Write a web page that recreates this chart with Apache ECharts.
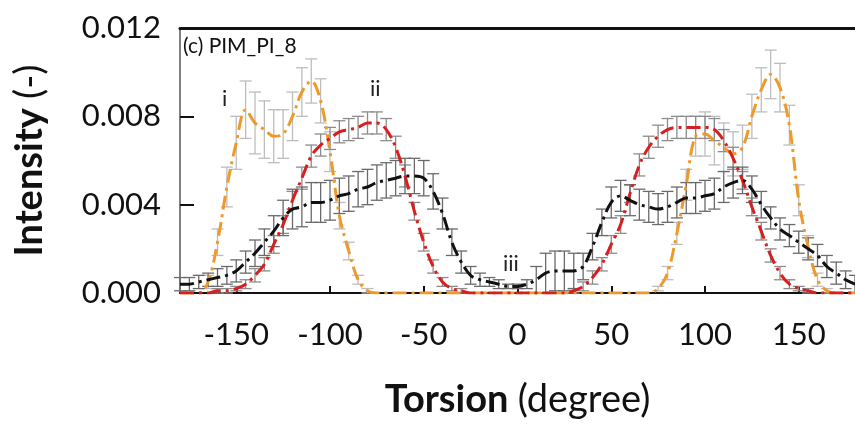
<!DOCTYPE html>
<html><head><meta charset="utf-8">
<script src="https://cdn.jsdelivr.net/npm/echarts@6/dist/echarts.min.js"></script>
<style>html,body{margin:0;padding:0;background:#fff}#c{width:855px;height:431px}</style>
</head><body><div id="c"></div>
<script>
const torsion = [-180,-175,-170,-165,-160,-155,-150,-145,-140,-135,-130,-125,-120,-115,-110,-105,-100,-95,-90,-85,-80,-75,-70,-65,-60,-55,-50,-45,-40,-35,-30,-25,-20,-15,-10,-5,0,5,10,15,20,25,30,35,40,45,50,55,60,65,70,75,80,85,90,95,100,105,110,115,120,125,130,135,140,145,150,155,160,165,170,175,180];
const xTickValues = [-150,-100,-50,0,50,100,150];
const yTickMin = 0, yTickMax = 0.012, yTickStep = 0.004;

// Series i (orange)
const seriesI = [0,0,0,0.0005,0.0023,0.0048,0.0068,0.0083,0.0077,0.0074,0.0071,0.0072,0.0080,0.0091,0.0096,0.0087,0.0064,0.0035,0.0019,0.0006,0.0001,0,0,0,0,0,0,0,0,0,0,0,0,0,0,0,0,0,0,0,0,0,0,0,0,0,0,0,0,0,0,0.0002,0.0009,0.0027,0.0049,0.0071,0.0072,0.0069,0.0066,0.0063,0.0066,0.0080,0.0092,0.0099,0.0093,0.0076,0.0042,0.0021,0.0006,0.0001,0,0,0];
const errI = [0,0,0,0.0003,0.0006,0.0009,0.0012,0.0013,0.0014,0.0013,0.0012,0.0011,0.0011,0.0011,0.0010,0.0010,0.0009,0.0006,0.0004,0.0002,0.0001,0,0,0,0,0,0,0,0,0,0,0,0,0,0,0,0,0,0,0,0,0,0,0,0,0,0,0,0,0,0,0.0001,0.0003,0.0005,0.0007,0.0009,0.0010,0.0011,0.0011,0.0010,0.0010,0.0010,0.0010,0.0011,0.0011,0.0009,0.0007,0.0005,0.0003,0.0001,0,0,0];

// Series ii (red)
const seriesII = [0,0,0,0,0.0001,0.0001,0.0002,0.0004,0.0008,0.0013,0.0022,0.0031,0.0042,0.0052,0.0062,0.0067,0.0070,0.0073,0.0074,0.0075,0.0077,0.0077,0.0074,0.0066,0.0053,0.0037,0.0023,0.0012,0.0005,0.0002,0.0001,0,0,0,0,0,0,0,0,0,0,0,0.0001,0.0003,0.0007,0.0013,0.0022,0.0031,0.0045,0.0058,0.0066,0.0071,0.0074,0.0075,0.0075,0.0075,0.0075,0.0074,0.0069,0.0061,0.0051,0.0039,0.0028,0.0017,0.0009,0.0004,0.0002,0.0001,0,0,0,0,0];
const errII = [0,0,0,0,0.0001,0.0001,0.0001,0.0002,0.0003,0.0003,0.0004,0.0004,0.0004,0.0005,0.0005,0.0005,0.0005,0.0005,0.0005,0.0005,0.0005,0.0005,0.0005,0.0005,0.0005,0.0004,0.0004,0.0003,0.0002,0.0001,0.0001,0,0,0,0,0,0,0,0,0,0,0,0.0001,0.0002,0.0003,0.0003,0.0004,0.0004,0.0004,0.0005,0.0005,0.0005,0.0005,0.0005,0.0005,0.0005,0.0005,0.0005,0.0005,0.0005,0.0004,0.0004,0.0004,0.0003,0.0003,0.0002,0.0001,0.0001,0,0,0,0,0];

// Series iii (black)
const seriesIII = [0.0004,0.0004,0.0005,0.0006,0.0007,0.0008,0.0010,0.0014,0.0018,0.0023,0.0028,0.0034,0.0038,0.0039,0.0041,0.0041,0.0042,0.0044,0.0045,0.0047,0.0048,0.0050,0.0051,0.0052,0.0053,0.0053,0.0052,0.0046,0.0036,0.0023,0.0014,0.0008,0.0006,0.0005,0.0004,0.0003,0.0003,0.0004,0.0006,0.0009,0.0010,0.0010,0.0010,0.0012,0.0021,0.0032,0.0041,0.0044,0.0042,0.0040,0.0039,0.0038,0.0039,0.0041,0.0043,0.0043,0.0044,0.0045,0.0048,0.0050,0.0051,0.0047,0.0040,0.0034,0.0029,0.0026,0.0023,0.0020,0.0017,0.0012,0.0009,0.0006,0.0004];
const errIII = [0.0003,0.0003,0.0003,0.0003,0.0004,0.0004,0.0005,0.0005,0.0006,0.0006,0.0007,0.0008,0.0009,0.0009,0.0009,0.0009,0.0009,0.0008,0.0008,0.0008,0.0008,0.0008,0.0008,0.0008,0.0008,0.0008,0.0008,0.0008,0.0007,0.0006,0.0005,0.0004,0.0003,0.0002,0.0002,0.0001,0.0001,0.0002,0.0006,0.0009,0.0009,0.0009,0.0008,0.0006,0.0006,0.0006,0.0007,0.0007,0.0007,0.0007,0.0007,0.0007,0.0007,0.0007,0.0007,0.0007,0.0007,0.0007,0.0007,0.0007,0.0006,0.0006,0.0006,0.0005,0.0005,0.0005,0.0005,0.0005,0.0005,0.0005,0.0005,0.0004,0.0004];

const FONT = 'Lato, "Open Sans", sans-serif';

function pairs(vals){ return torsion.map((x,i)=>[x, vals[i]]); }
function errData(vals, errs){
  const out = [];
  torsion.forEach((x,i)=>{ if (errs[i] > 0) out.push([x, vals[i]-errs[i], vals[i]+errs[i]]); });
  return out;
}
function errSeries(vals, errs, color){
  return {
    type: 'custom', z: 1, silent: true,
    data: errData(vals, errs),
    encode: {x: 0, y: [1,2]},
    renderItem: function(params, api){
      const x = api.value(0);
      const lo = api.coord([x, api.value(1)]);
      const hi = api.coord([x, api.value(2)]);
      const hw = 6;
      const st = {stroke: color, lineWidth: 1.3};
      return {type: 'group', children: [
        {type: 'line', shape: {x1: lo[0], y1: lo[1], x2: hi[0], y2: hi[1]}, style: st},
        {type: 'line', shape: {x1: lo[0]-hw, y1: lo[1], x2: lo[0]+hw, y2: lo[1]}, style: st},
        {type: 'line', shape: {x1: hi[0]-hw, y1: hi[1], x2: hi[0]+hw, y2: hi[1]}, style: st}
      ]};
    }
  };
}
function lineSeries(vals, color){
  return {
    type: 'line', z: 3, data: pairs(vals), smooth: 0.35, showSymbol: false,
    lineStyle: {color: color, width: 3, type: [14, 5, 3, 5]}
  };
}

const chart = echarts.init(document.getElementById('c'), null, {renderer: 'canvas'});
chart.setOption({
  animation: false,
  backgroundColor: '#fff',
  grid: {left: 180, top: 28, right: -5, bottom: 138, show: false},
  xAxis: [{
    type: 'value', min: -180, max: 180,
    name: '{b|Torsion }{n|(degree)}', nameLocation: 'middle', nameGap: 88,
    nameTextStyle: {rich: {b: {fontFamily: FONT, fontWeight: 'bold', fontSize: 38, color: '#111'}, n: {fontFamily: FONT, fontSize: 38, color: '#111'}}},
    axisLine: {show: true, onZero: false, lineStyle: {color: '#111', width: 2}},
    axisTick: {show: true, inside: true, length: 7, customValues: xTickValues, lineStyle: {color: '#111', width: 2}},
    axisLabel: {customValues: xTickValues, fontFamily: FONT, fontSize: 31, color: '#111', margin: 26},
    splitLine: {show: false}
  }, {
    type: 'value', min: -180, max: 180, position: 'top',
    axisLine: {show: true, onZero: false, lineStyle: {color: '#111', width: 3}},
    axisTick: {show: false}, axisLabel: {show: false}, splitLine: {show: false}
  }],
  yAxis: {
    type: 'value', min: yTickMin, max: yTickMax, interval: yTickStep,
    name: '{b|Intensity }{n|(-)}', nameLocation: 'middle', nameRotate: 90, nameGap: 131,
    nameTextStyle: {rich: {b: {fontFamily: FONT, fontWeight: 'bold', fontSize: 38, color: '#111'}, n: {fontFamily: FONT, fontSize: 38, color: '#111'}}},
    axisLine: {show: true, onZero: false, lineStyle: {color: '#555', width: 1.5}},
    axisTick: {show: true, inside: true, length: 14, lineStyle: {color: '#111', width: 2}},
    axisLabel: {fontFamily: FONT, fontSize: 31, color: '#111', margin: 19, formatter: v => v.toFixed(3)},
    splitLine: {show: false}
  },
  graphic: [
    {type: 'text', left: 183, top: 36, style: {text: '(c) PIM_PI_8', font: '21px ' + FONT, fill: '#111'}},
    {type: 'text', left: 222, top: 88, style: {text: 'i', font: '22px ' + FONT, fill: '#222'}},
    {type: 'text', left: 370, top: 78, style: {text: 'ii', font: '22px ' + FONT, fill: '#222'}},
    {type: 'text', left: 503, top: 253, style: {text: 'iii', font: '22px ' + FONT, fill: '#222'}}
  ],
  series: [
    errSeries(seriesI, errI, '#bdbdbd'),
    errSeries(seriesII, errII, '#8c8c8c'),
    errSeries(seriesIII, errIII, '#6a6a6a'),
    lineSeries(seriesI, '#EE9A2A'),
    lineSeries(seriesII, '#D81E1E'),
    lineSeries(seriesIII, '#111111')
  ]
});
</script>
</body></html>
